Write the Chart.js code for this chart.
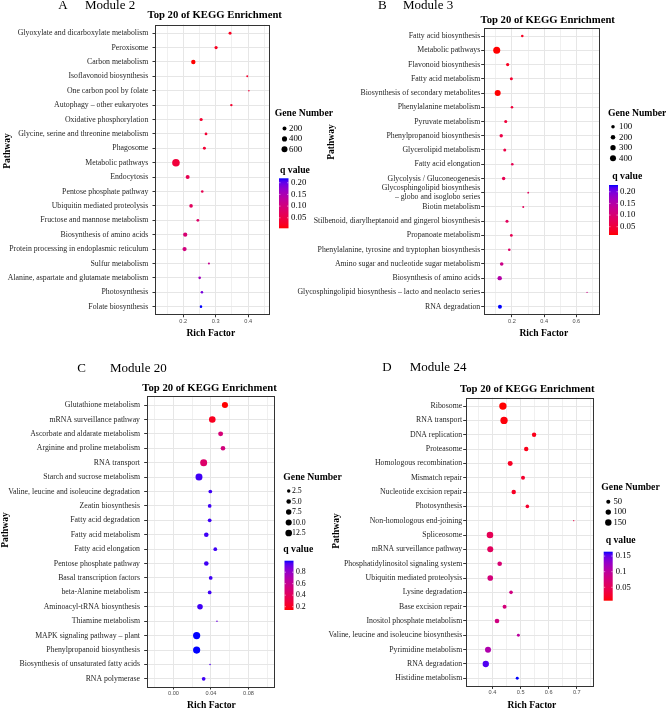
<!DOCTYPE html>
<html>
<head>
<meta charset="utf-8">
<script src="https://cdn.jsdelivr.net/npm/chart.js@4.4.0/dist/chart.umd.min.js"></script>
<style>
  html, body { margin: 0; padding: 0; background: #fff; }
  #wrap { position: relative; width: 666px; height: 710px; overflow: hidden; background: #fff; }
  #wrap canvas { position: absolute; left: 0; top: 0; }
</style>
</head>
<body>
<div id="wrap">
  <canvas id="cA" width="666" height="710"></canvas>
  <canvas id="cB" width="666" height="710"></canvas>
  <canvas id="cC" width="666" height="710"></canvas>
  <canvas id="cD" width="666" height="710"></canvas>
</div>
<script>
// ---- data: panel A, Module 2
const pathwaysA = ['Glyoxylate and dicarboxylate metabolism', 'Peroxisome', 'Carbon metabolism',
  'Isoflavonoid biosynthesis', 'One carbon pool by folate', 'Autophagy – other eukaryotes',
  'Oxidative phosphorylation', 'Glycine, serine and threonine metabolism', 'Phagosome',
  'Metabolic pathways', 'Endocytosis', 'Pentose phosphate pathway', 'Ubiquitin mediated proteolysis',
  'Fructose and mannose metabolism', 'Biosynthesis of amino acids',
  'Protein processing in endoplasmic reticulum', 'Sulfur metabolism',
  'Alanine, aspartate and glutamate metabolism', 'Photosynthesis', 'Folate biosynthesis'];
const richA = [0.344, 0.301, 0.231, 0.397, 0.402, 0.348, 0.255, 0.270, 0.265, 0.1775,
  0.2135, 0.2585, 0.224, 0.245, 0.206, 0.204, 0.279, 0.2505, 0.2575, 0.2545];
const genesA = [100, 120, 270, 50, 45, 63, 120, 86, 100, 1080, 210, 74, 160, 86, 240, 240, 52, 74, 74, 74];
const qA = [0.02, 0.02, 0.005, 0.03, 0.04, 0.03, 0.03, 0.035, 0.035, 0.04,
  0.06, 0.06, 0.07, 0.08, 0.09, 0.10, 0.12, 0.16, 0.19, 0.219];
const geneTicksA = [200, 400, 600];
const qTicksA = [0.05, 0.10, 0.15, 0.20];
const qTickTextA = ['0.05', '0.10', '0.15', '0.20'];

// ---- data: panel B, Module 3
const pathwaysB = ['Fatty acid biosynthesis', 'Metabolic pathways', 'Flavonoid biosynthesis',
  'Fatty acid metabolism', 'Biosynthesis of secondary metabolites', 'Phenylalanine metabolism',
  'Pyruvate metabolism', 'Phenylpropanoid biosynthesis', 'Glycerolipid metabolism',
  'Fatty acid elongation', 'Glycolysis / Gluconeogenesis',
  ['Glycosphingolipid biosynthesis', '– globo and isoglobo series'], 'Biotin metabolism',
  'Stilbenoid, diarylheptanoid and gingerol biosynthesis', 'Propanoate metabolism',
  'Phenylalanine, tyrosine and tryptophan biosynthesis', 'Amino sugar and nucleotide sugar metabolism',
  'Biosynthesis of amino acids', 'Glycosphingolipid biosynthesis – lacto and neolacto series',
  'RNA degradation'];
const richB = [0.264, 0.105, 0.173, 0.196, 0.111, 0.200, 0.161, 0.133, 0.155, 0.202,
  0.148, 0.301, 0.270, 0.169, 0.196, 0.183, 0.136, 0.1235, 0.667, 0.125];
const genesB = [43, 579, 78, 65, 400, 43, 65, 92, 65, 43, 92, 16, 21, 65, 53, 43, 107, 183, 10, 143];
const qB = [0.03, 0.0144, 0.03, 0.04, 0.0144, 0.05, 0.05, 0.06, 0.06, 0.07,
  0.07, 0.08, 0.08, 0.08, 0.07, 0.09, 0.12, 0.15, 0.12, 0.229];
const geneTicksB = [100, 200, 300, 400];
const qTicksB = [0.05, 0.10, 0.15, 0.20];
const qTickTextB = ['0.05', '0.10', '0.15', '0.20'];

// ---- data: panel C, Module 20
const pathwaysC = ['Glutathione metabolism', 'mRNA surveillance pathway', 'Ascorbate and aldarate metabolism',
  'Arginine and proline metabolism', 'RNA transport', 'Starch and sucrose metabolism',
  'Valine, leucine and isoleucine degradation', 'Zeatin biosynthesis', 'Fatty acid degradation',
  'Fatty acid metabolism', 'Fatty acid elongation', 'Pentose phosphate pathway',
  'Basal transcription factors', 'beta-Alanine metabolism', 'Aminoacyl-tRNA biosynthesis',
  'Thiamine metabolism', 'MAPK signaling pathway – plant', 'Phenylpropanoid biosynthesis',
  'Biosynthesis of unsaturated fatty acids', 'RNA polymerase'];
const richC = [0.0549, 0.0414, 0.0503, 0.0528, 0.0322, 0.0272, 0.0393, 0.0386, 0.0386, 0.035,
  0.0446, 0.035, 0.0397, 0.0386, 0.0283, 0.0464, 0.0247, 0.0247, 0.039, 0.0322];
const genesC = [10, 12, 6, 5, 14, 14, 3, 3, 3, 5, 3, 5, 3, 3, 8, 1, 15, 15, 1, 3];
const qC = [0.142, 0.2, 0.5, 0.52, 0.45, 0.97, 0.97, 0.97, 0.97, 0.97,
  0.97, 0.97, 0.97, 0.97, 0.97, 0.9, 1.0, 1.0, 0.95, 0.97];
const geneTicksC = [2.5, 5.0, 7.5, 10.0, 12.5];
const geneTickTextC = ['2.5', '5.0', '7.5', '10.0', '12.5'];
const qTicksC = [0.2, 0.4, 0.6, 0.8];
const qTickTextC = ['0.2', '0.4', '0.6', '0.8'];

// ---- data: panel D, Module 24
const pathwaysD = ['Ribosome', 'RNA transport', 'DNA replication', 'Proteasome', 'Homologous recombination',
  'Mismatch repair', 'Nucleotide excision repair', 'Photosynthesis', 'Non-homologous end-joining',
  'Spliceosome', 'mRNA surveillance pathway', 'Phosphatidylinositol signaling system',
  'Ubiquitin mediated proteolysis', 'Lysine degradation', 'Base excision repair',
  'Inositol phosphate metabolism', 'Valine, leucine and isoleucine biosynthesis',
  'Pyrimidine metabolism', 'RNA degradation', 'Histidine metabolism'];
const richD = [0.437, 0.441, 0.548, 0.520, 0.463, 0.5085, 0.4755, 0.524, 0.689, 0.391,
  0.392, 0.4255, 0.392, 0.466, 0.443, 0.416, 0.492, 0.384, 0.376, 0.488];
const genesD = [211, 205, 60, 60, 82, 47, 60, 36, 5, 161, 129, 67, 109, 36, 47, 67, 22, 129, 145, 22];
const qD = [0.0072, 0.01, 0.015, 0.015, 0.02, 0.025, 0.02, 0.025, 0.04, 0.05,
  0.055, 0.07, 0.075, 0.08, 0.075, 0.08, 0.10, 0.11, 0.155, 0.164];
const geneTicksD = [50, 100, 150];
const qTicksD = [0.05, 0.1, 0.15];
const qTickTextD = ['0.05', '0.1', '0.15'];

// ---- colour scale: red (low q) to blue (high q), interpolated in Lab like ggplot
function labOf(hex) {
  const c = [1, 3, 5].map(i => parseInt(hex.slice(i, i + 2), 16) / 255)
    .map(v => v <= 0.04045 ? v / 12.92 : Math.pow((v + 0.055) / 1.055, 2.4));
  const X = (c[0] * 0.4124 + c[1] * 0.3576 + c[2] * 0.1805) / 0.95047;
  const Y = c[0] * 0.2126 + c[1] * 0.7152 + c[2] * 0.0722;
  const Z = (c[0] * 0.0193 + c[1] * 0.1192 + c[2] * 0.9505) / 1.08883;
  const f = t => t > 0.008856 ? Math.cbrt(t) : 7.787 * t + 16 / 116;
  return [116 * f(Y) - 16, 500 * (f(X) - f(Y)), 200 * (f(Y) - f(Z))];
}
function labToRgb(L, a, b) {
  const fy = (L + 16) / 116, fx = fy + a / 500, fz = fy - b / 200;
  const inv = t => t * t * t > 0.008856 ? t * t * t : (t - 16 / 116) / 7.787;
  const X = inv(fx) * 0.95047, Y = inv(fy), Z = inv(fz) * 1.08883;
  const lin = [3.2406 * X - 1.5372 * Y - 0.4986 * Z,
               -0.9689 * X + 1.8758 * Y + 0.0415 * Z,
               0.0557 * X - 0.2040 * Y + 1.0570 * Z];
  const rgb = lin.map(v => {
    v = v <= 0.0031308 ? 12.92 * v : 1.055 * Math.pow(Math.max(v, 0), 1 / 2.4) - 0.055;
    return Math.round(Math.max(0, Math.min(1, v)) * 255);
  });
  return 'rgb(' + rgb.join(',') + ')';
}
const LOW = labOf('#ff0000'), HIGH = labOf('#0000ff');
function qColor(t) {
  t = Math.max(0, Math.min(1, t));
  return labToRgb(...LOW.map((v, i) => v + (HIGH[i] - v) * t));
}

function txt(c, s, x, y, font, align, rot) {
  c.save();
  c.font = font;
  c.fillStyle = '#000';
  c.textAlign = align || 'left';
  c.textBaseline = 'middle';
  c.translate(x, y);
  if (rot) c.rotate(rot);
  c.fillText(s, 0, 0);
  c.restore();
}

const SERIF = 'Liberation Serif';

function makeChart(id, labels, rich, genes, q, geneTicks, geneText, qTicks, qText, p) {
  const gMin = Math.min(...genes), gMax = Math.max(...genes);
  const qMin = Math.min(...q), qMax = Math.max(...q);
  const rad = g => p.rMin + (p.rMax - p.rMin) * Math.sqrt(Math.max(0, g - gMin) / (gMax - gMin));
  const col = v => qColor((v - qMin) / (qMax - qMin));
  const isMajor = v => Math.abs(v / p.major - Math.round(v / p.major)) < 1e-6;

  const deco = {
    id: 'deco',
    afterDatasetsDraw(chart) {
      const c = chart.ctx, a = chart.chartArea;
      c.save();
      c.strokeStyle = '#333';
      c.lineWidth = 1;
      c.strokeRect(Math.round(a.left) + 0.5, Math.round(a.top) + 0.5,
        Math.round(a.right) - Math.round(a.left) - 1, Math.round(a.bottom) - Math.round(a.top) - 1);
      c.restore();
    },
    afterDraw(chart) {
      const c = chart.ctx;
      txt(c, p.letter, p.letterX, p.headY, '13px ' + SERIF, 'center');
      txt(c, p.module, p.moduleX, p.headY, '13px ' + SERIF, 'left');
      txt(c, 'Top 20 of KEGG Enrichment', p.titleX, p.titleY, 'bold 10.7px ' + SERIF, 'center');
      txt(c, 'Pathway', p.pathX, p.pathY, 'bold 9.5px ' + SERIF, 'center', -Math.PI / 2);
      txt(c, 'Rich Factor', p.richX, p.richY, 'bold 9.6px ' + SERIF, 'center');

      // size legend
      txt(c, 'Gene Number', p.gnX, p.gnY, 'bold 9.7px ' + SERIF, 'left');
      geneTicks.forEach((g, i) => {
        const y = p.sY0 + i * p.sStep;
        c.beginPath();
        c.arc(p.sX, y, rad(g), 0, Math.PI * 2);
        c.fillStyle = '#000';
        c.fill();
        txt(c, geneText[i], p.sLX, y, p.lf + 'px ' + SERIF, 'left');
      });

      // colour bar
      txt(c, 'q value', p.qX, p.qY, 'bold 9.7px ' + SERIF, 'left');
      const h = p.bBot - p.bTop;
      const grad = c.createLinearGradient(0, p.bBot, 0, p.bTop);
      for (let k = 0; k <= 20; k++) grad.addColorStop(k / 20, qColor(k / 20));
      c.fillStyle = grad;
      c.fillRect(p.bX, p.bTop, p.bW, h);
      qTicks.forEach((v, i) => {
        const y = p.bBot - (v - qMin) / (qMax - qMin) * h;
        c.strokeStyle = 'rgba(255,255,255,0.8)';
        c.lineWidth = 0.6;
        c.beginPath();
        c.moveTo(p.bX, y); c.lineTo(p.bX + 1.5, y);
        c.moveTo(p.bX + p.bW - 1.5, y); c.lineTo(p.bX + p.bW, y);
        c.stroke();
        txt(c, qText[i], p.bLX, y, p.lf + 'px ' + SERIF, 'left');
      });
    }
  };

  return new Chart(document.getElementById(id), {
    type: 'bubble',
    data: {
      datasets: [{
        data: rich.map((x, i) => ({ x: x, y: i, r: rad(genes[i]) })),
        backgroundColor: q.map(col),
        borderWidth: 0,
        hoverBorderWidth: 0
      }]
    },
    options: {
      responsive: false,
      animation: false,
      events: [],
      layout: {
        padding: { left: p.L - p.yW, top: p.T, right: 666 - p.R, bottom: 710 - p.B - 10 }
      },
      plugins: { legend: { display: false }, tooltip: { enabled: false } },
      scales: {
        x: {
          type: 'linear',
          min: p.xMin,
          max: p.xMax,
          afterFit: s => { s.height = 10; },
          border: { display: false },
          grid: {
            color: ctx => isMajor(ctx.tick.value) ? '#e6e6e6' : '#f0f0f0',
            lineWidth: 1,
            tickLength: 2,
            tickColor: ctx => isMajor(ctx.tick.value) ? '#333' : 'rgba(0,0,0,0)'
          },
          ticks: {
            stepSize: p.xStep,
            includeBounds: false,
            autoSkip: false,
            maxRotation: 0,
            padding: 0.5,
            color: '#4d4d4d',
            font: { family: 'Liberation Sans', size: 5.6 },
            callback: v => isMajor(v) ? v.toFixed(p.dec) : ''
          }
        },
        y: {
          type: 'linear',
          reverse: true,
          min: -0.6,
          max: labels.length - 0.4,
          afterFit: s => { s.width = p.yW; },
          border: { display: false },
          grid: { color: '#e6e6e6', lineWidth: 1, tickLength: 2.5, tickColor: '#333' },
          ticks: {
            stepSize: 1,
            includeBounds: false,
            autoSkip: false,
            padding: p.yPad,
            color: '#262626',
            font: { family: SERIF, size: 7.8, lineHeight: 1.1 },
            callback: v => labels[v]
          }
        }
      }
    },
    plugins: [deco]
  });
}

makeChart('cA', pathwaysA, richA, genesA, qA, geneTicksA, geneTicksA.map(String), qTicksA, qTickTextA, {
  L: 155, R: 270, T: 24.5, B: 315.3, yW: 153, xMin: 0.113, xMax: 0.467, xStep: 0.05, major: 0.1, dec: 1,
  yPad: 4.2, rMin: 0.8, rMax: 3.8,
  letter: 'A', letterX: 63, module: 'Module 2', moduleX: 85, headY: 6,
  titleX: 214.7, titleY: 15.7, pathX: 7.5, pathY: 151, richX: 210.8, richY: 333.3,
  gnX: 274.7, gnY: 113.5, sX: 284.5, sY0: 128.5, sStep: 10.4, sLX: 289, lf: 8.8,
  qX: 280, qY: 170, bX: 279, bW: 9.5, bTop: 178.3, bBot: 228.3, bLX: 291
});

makeChart('cB', pathwaysB, richB, genesB, qB, geneTicksB, geneTicksB.map(String), qTicksB, qTickTextB, {
  L: 483.7, R: 599.7, T: 27.5, B: 315.2, yW: 190, xMin: 0.024, xMax: 0.7456, xStep: 0.1, major: 0.2, dec: 1,
  yPad: 1, rMin: 0.6, rMax: 3.5,
  letter: 'B', letterX: 382.3, module: 'Module 3', moduleX: 403, headY: 6,
  titleX: 547.7, titleY: 20, pathX: 331.5, pathY: 142, richX: 543.8, richY: 333.3,
  gnX: 608, gnY: 113, sX: 613, sY0: 126.7, sStep: 10.5, sLX: 619, lf: 8.8,
  qX: 612.3, qY: 176, bX: 609, bW: 9, bTop: 185, bBot: 235, bLX: 620
});

makeChart('cC', pathwaysC, richC, genesC, qC, geneTicksC, geneTickTextC, qTicksC, qTickTextC, {
  L: 146.7, R: 274.7, T: 396.4, B: 687.5, yW: 145, xMin: -0.0286, xMax: 0.108, xStep: 0.02, major: 0.04, dec: 2,
  yPad: 4.2, rMin: 0.8, rMax: 3.6,
  letter: 'C', letterX: 81.7, module: 'Module 20', moduleX: 110, headY: 368.3,
  titleX: 209.5, titleY: 388.3, pathX: 6, pathY: 530, richX: 211.5, richY: 706,
  gnX: 283.3, gnY: 477.3, sX: 288.7, sY0: 491, sStep: 10.5, sLX: 292, lf: 7.8,
  qX: 283.3, qY: 549.3, bX: 284.5, bW: 9, bTop: 560.7, bBot: 610, bLX: 296
});

makeChart('cD', pathwaysD, richD, genesD, qD, geneTicksD, geneTicksD.map(String), qTicksD, qTickTextD, {
  L: 465.7, R: 593.5, T: 397.5, B: 686.9, yW: 150, xMin: 0.3046, xMax: 0.7594, xStep: 0.05, major: 0.1, dec: 1,
  yPad: 1, rMin: 0.6, rMax: 3.7,
  letter: 'D', letterX: 387, module: 'Module 24', moduleX: 409.7, headY: 367.3,
  titleX: 527.3, titleY: 389.3, pathX: 337, pathY: 531, richX: 532, richY: 705.7,
  gnX: 601.3, gnY: 487.7, sX: 608.3, sY0: 501.7, sStep: 10.4, sLX: 613.5, lf: 8.6,
  qX: 605.7, qY: 540.7, bX: 603.7, bW: 9, bTop: 551.7, bBot: 600.7, bLX: 615.7
});
</script>
</body>
</html>
